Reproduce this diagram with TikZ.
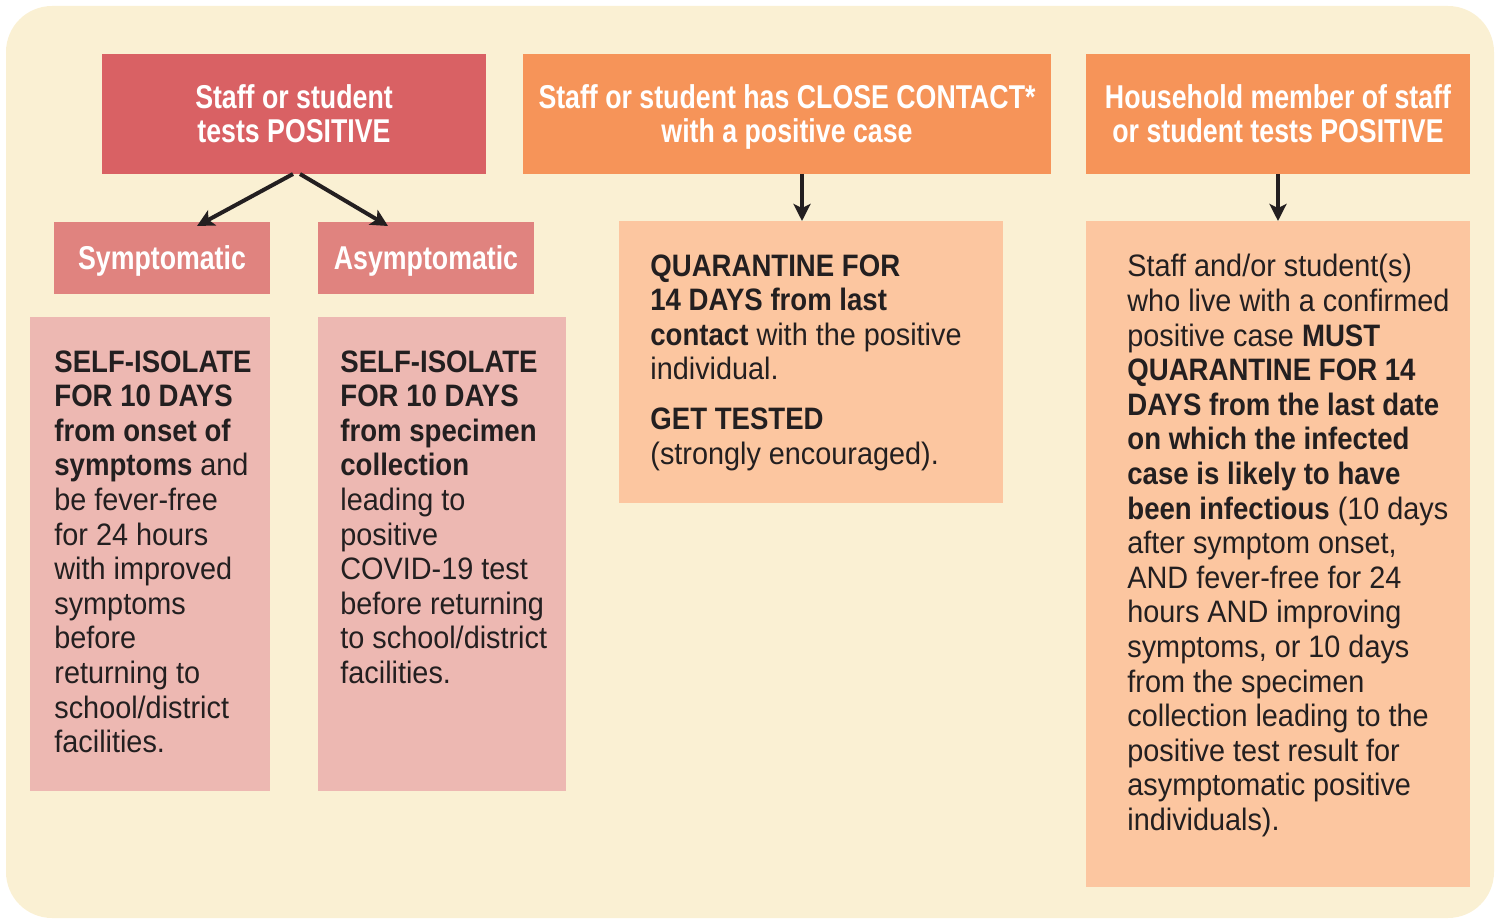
\documentclass[tikz,border=0pt]{standalone}
\usepackage{fontspec}
\setmainfont[FakeStretch=0.93,BoldFeatures={FakeStretch=0.89}]{Liberation Sans}
\newfontfamily\headfont[FakeStretch=0.81]{Liberation Sans}
\usetikzlibrary{arrows.meta,positioning,fit}
\definecolor{cream}{RGB}{250,240,211}
\definecolor{redhead}{RGB}{217,97,100}
\definecolor{orangehead}{RGB}{246,148,89}
\definecolor{redsub}{RGB}{224,131,127}
\definecolor{pinkbody}{RGB}{237,184,178}
\definecolor{peachbody}{RGB}{252,198,160}
\definecolor{ink}{RGB}{35,31,32}

\tikzset{
  panel/.style={inner sep=0pt,outer sep=0pt},
  head/.style={anchor=north west,inner sep=0pt,outer sep=0pt,text=white,align=center,text depth=0pt,
    font=\headfont\bfseries\fontsize{16.5}{17}\selectfont},
  body/.style={anchor=north west,inner sep=0pt,text=ink,align=left,font=\fontsize{15.5}{17.3}\selectfont},
  arr/.style={line width=2pt,draw=ink,-{Stealth[length=8.5pt,width=8.5pt,inset=2pt]}}
}

\begin{document}
\begin{tikzpicture}[x=0.5pt,y=-0.5pt]
  \useasboundingbox (0,0) rectangle (1501,919);
  \fill[cream,rounded corners=23pt] (6,6) rectangle (1494,918);

  % top row
  \node[head,fill=redhead,minimum width=192pt,minimum height=60pt] (pos) at (102,54) {Staff or student\\tests POSITIVE};
  \node[head,fill=orangehead,minimum width=264pt,minimum height=60pt] (close) at (523,54) {Staff or student has CLOSE CONTACT*\\with a positive case};
  \node[head,fill=orangehead,minimum width=192pt,minimum height=60pt] (house) at (1086,54) {Household member of staff\\or student tests POSITIVE};

  % second row
  \node[head,fill=redsub,minimum width=108pt,minimum height=36pt] (symp) at (54,222) {Symptomatic};
  \node[head,fill=redsub,minimum width=108pt,minimum height=36pt] (asymp) at (318,222) {Asymptomatic};
  \node[panel,fill=pinkbody,fit={(30,317)(270,791)}] (sympbody) {};
  \node[panel,fill=pinkbody,fit={(318,317)(566,791)}] (asympbody) {};
  \node[panel,fill=peachbody,fit={(619,221)(1003,503)}] (closebody) {};
  \node[panel,fill=peachbody,fit={(1086,221)(1470,887)}] (housebody) {};

  \node[body] (sympt) at (54,350) {\textbf{SELF-ISOLATE}\\\textbf{FOR 10 DAYS}\\\textbf{from onset of}\\\textbf{symptoms} and\\be fever-free\\for 24 hours\\with improved\\symptoms\\before\\returning to\\school/district\\facilities.};
  \node[body] (asympt) at (340,350) {\textbf{SELF-ISOLATE}\\\textbf{FOR 10 DAYS}\\\textbf{from specimen}\\\textbf{collection}\\leading to\\positive\\COVID-19 test\\before returning\\to school/district\\facilities.};
  \node[body] (closet) at (650,254) {\textbf{QUARANTINE FOR}\\\textbf{14 DAYS from last}\\\textbf{contact} with the positive\\individual.\\[7.7pt]\textbf{GET TESTED}\\(strongly encouraged).};
  \node[body] (houset) at (1127,254) {Staff and/or student(s)\\who live with a confirmed\\positive case \textbf{MUST}\\\textbf{QUARANTINE FOR 14}\\\textbf{DAYS from the last date}\\\textbf{on which the infected}\\\textbf{case is likely to have}\\\textbf{been infectious} (10 days\\after symptom onset,\\AND fever-free for 24\\hours AND improving\\symptoms, or 10 days\\from the specimen\\collection leading to the\\positive test result for\\asymptomatic positive\\individuals).};

  % arrows
  \draw[arr] ([xshift=-0.5pt]pos.south) -- ([xshift=17.5pt,yshift=-2pt]symp.north);
  \draw[arr] ([xshift=3pt]pos.south) -- ([xshift=-19pt,yshift=-2pt]asymp.north);
  \draw[arr] ([xshift=7.5pt]close.south) -- ([xshift=7.5pt]close.south |- closebody.north);
  \draw[arr] (house.south) -- (housebody.north);
\end{tikzpicture}
\end{document}
